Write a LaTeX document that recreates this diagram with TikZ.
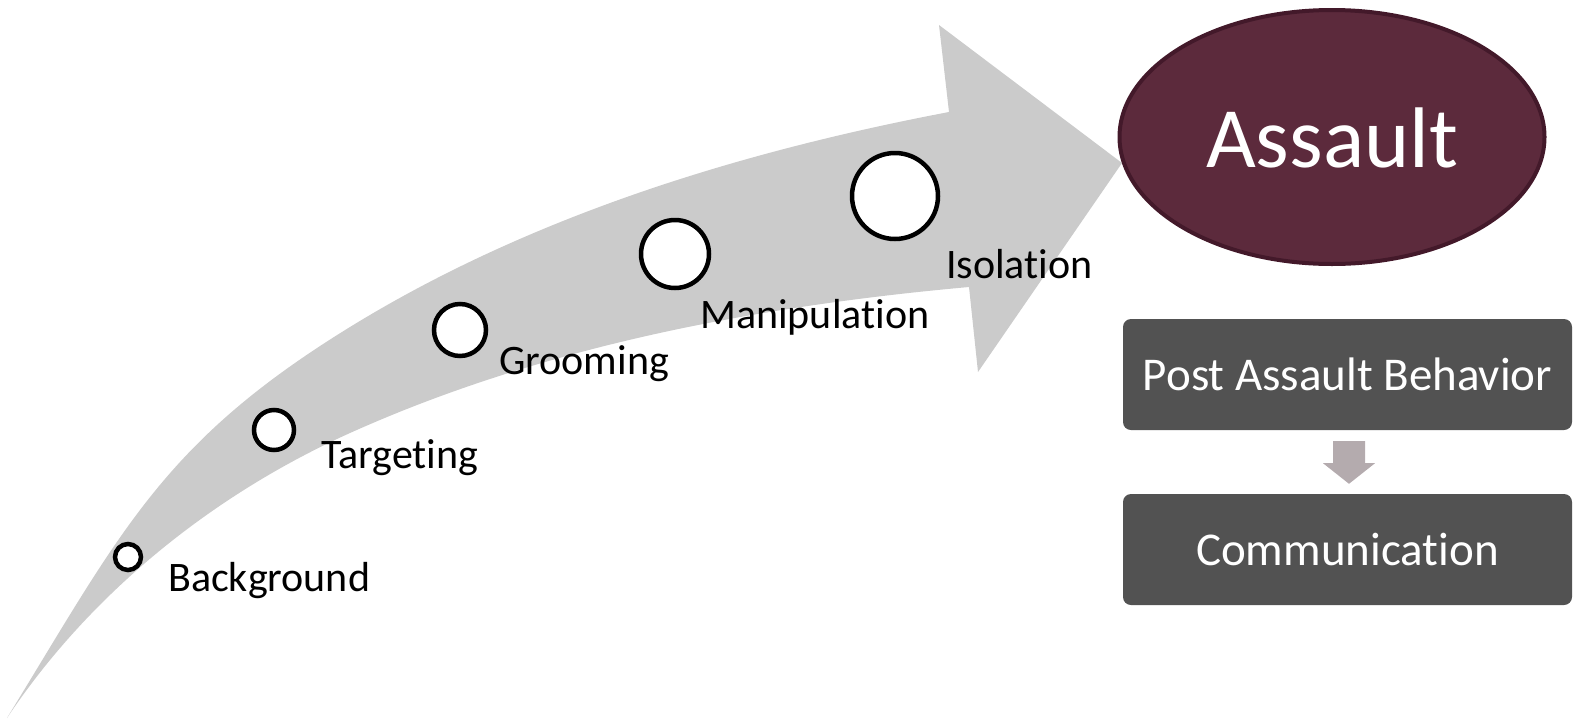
\documentclass[tikz,border=0pt]{standalone}
\usepackage{fontspec}
\setmainfont{Carlito}[Ligatures={NoCommon,NoContextual,NoRare}]
\usetikzlibrary{calc,shapes.geometric}
\definecolor{arrowgray}{HTML}{CBCBCB}
\definecolor{assaultfill}{HTML}{5C2A3C}
\definecolor{assaultedge}{HTML}{43192A}
\definecolor{boxgray}{HTML}{525252}
\definecolor{smallarrowcol}{HTML}{B4ABAE}
\tikzset{
  ring/.style={circle, draw=black, line width=4.5pt, fill=white, inner sep=0pt},
  lbl/.style={anchor=base west, inner sep=0pt, font=\fontsize{42}{50}\selectfont, text=black},
  assaultnode/.style={ellipse, draw=assaultedge, line width=4pt, fill=assaultfill, inner sep=0pt},
  assaulttext/.style={anchor=base, inner sep=0pt, text=white, font=\fontsize{86}{100}\selectfont},
  pbox/.style={rectangle, rounded corners=8pt, fill=boxgray, text=white, inner sep=0pt,
    minimum width=449pt, minimum height=111pt, font=\fontsize{47}{56}\selectfont},
}
\begin{document}
\begin{tikzpicture}[x=1pt,y=-1pt]
\useasboundingbox (0,0) rectangle (1575,721);
% big curved arrow
\fill[arrowgray] (7,718) .. controls (122,530.6) and (162.6,442.3) .. (350,327)
  .. controls (530.6,215.9) and (740.8,151.6) .. (949,112)
  -- (939,25) -- (1122,163) -- (978,372) -- (969,287)
  .. controls (757.8,306) and (543.3,346.1) .. (350,433)
  .. controls (213.2,494.5) and (90.2,593.2) .. (7,718) -- cycle;
% stage circles
\node[ring, minimum size=26pt] (c1) at (128,557) {};
\node[ring, minimum size=40pt] (c2) at (274,430) {};
\node[ring, minimum size=52pt] (c3) at (460,330) {};
\node[ring, minimum size=68pt] (c4) at (675,254) {};
\node[ring, minimum size=86pt] (c5) at (895,196) {};
% labels
\node[lbl] (l1) at (168,591) {Background};
\node[lbl] (l2) at (321,468) {Targeting};
\node[lbl] (l3) at (499,374) {Grooming};
\node[lbl] (l4) at (700,328) {Manipulation};
\node[lbl] (l5) at (946,278) {Isolation};
% assault ellipse
\node[assaultnode, minimum width=425pt, minimum height=254pt] (as) at (1332,137) {};
\node[assaulttext] (ast) at (1332,167) {Assault};
% boxes
\node[pbox] (pab) at (1347.5,374.5) {Post Assault Behavior};
\node[pbox] (comm) at (1347.5,549.5) {Communication};
% small down arrow
\fill[smallarrowcol] ($(pab.south)+(-14.5,11)$) -- ($(pab.south)+(17.5,11)$) -- ($(pab.south)+(17.5,33)$)
  -- ($(pab.south)+(27.5,33)$) -- ($(comm.north)+(1.5,-10)$) -- ($(pab.south)+(-24.5,33)$)
  -- ($(pab.south)+(-14.5,33)$) -- cycle;
\end{tikzpicture}
\end{document}
